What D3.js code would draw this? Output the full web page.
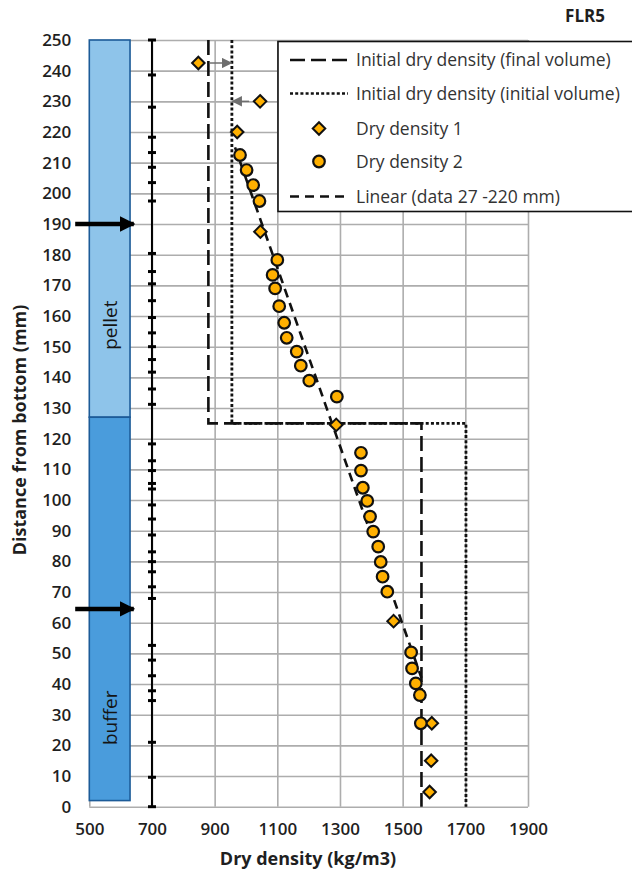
<!DOCTYPE html>
<html>
<head>
<meta charset="utf-8">
<script src="https://cdn.jsdelivr.net/npm/d3@7"></script>
<style>
  body { margin: 0; background: #fff; }
  svg text { font-family: "Open Sans", "Liberation Sans", sans-serif; }
</style>
</head>
<body>
<svg id="chart" width="632" height="882"></svg>
<script>
// ---- data ----
var xTicks = [500, 700, 900, 1100, 1300, 1500, 1700, 1900];
var yTicks = d3.range(0, 251, 10);

// Dry density 1 (diamonds) [density, distance]
var dryDensity1 = [
  [848, 242.5], [1045, 230], [972, 220], [1046, 187.5], [1288, 124.5],
  [1471, 60.5], [1593, 27.2], [1591, 15], [1586, 4.8]
];
// Dry density 2 (circles)
var dryDensity2 = [
  [981, 212.5], [1002, 207.6], [1023, 202.7], [1043, 197.5], [1100, 178.3],
  [1085, 173.4], [1093, 169], [1106, 163.2], [1122, 157.8], [1130, 152.9],
  [1162, 148.4], [1175, 143.8], [1202, 138.9], [1290, 133.7], [1367, 115.4],
  [1367, 109.6], [1373, 104], [1387, 99.7], [1396, 94.6], [1406, 89.7],
  [1422, 84.8], [1430, 79.8], [1436, 75], [1451, 70.1], [1527, 50.3],
  [1530, 45.1], [1542, 40.2], [1555, 36.4], [1558, 27.2]
];
// Initial dry density (final volume) step line
var initFinal = [[880, 250], [880, 125], [1560, 125], [1560, 0]];
// Initial dry density (initial volume) step line
var initInitial = [[955, 250], [955, 125], [1702, 125], [1702, 0]];
// Linear trend (data 27-220 mm)
var linearTrend = [[965, 215], [1560, 42]];
// sample boundaries marked on the 700 line
var sampleCuts = [0, 9.6, 21, 34.6, 37.8, 42.7, 47.8, 52.6, 67.9, 71.7, 76.6, 79.9, 83.1,
  88.6, 93.8, 98.4, 103.6, 105.4, 109.6, 112.8, 118.3, 131.2, 136.2, 141.7, 145.8, 150,
  154.5, 159.5, 165, 170.5, 174.5, 180.4, 197.5, 203.5, 208.5, 213.3, 218.3, 228.1, 238.6, 250];
// gray shift arrows [from density, to density, distance]
var shiftArrows = [[885, 953, 242.5], [1010, 957, 230]];
// specimen zones [name, bottom, top, label position]
var zones = [["pellet", 127, 250, 157], ["buffer", 2, 127, 29]];
var zoneColors = ["#8ec4ea", "#4a9cdc"];
// black section arrows (distance)
var sectionArrows = [190, 64.5];
var legendNames = ["Initial dry density (final volume)", "Initial dry density (initial volume)",
  "Dry density 1", "Dry density 2", "Linear (data 27 -220 mm)"];

// ---- layout ----
var svg = d3.select("#chart");
var x = d3.scaleLinear().domain([500, 1900]).range([89.3, 528]);
var y = d3.scaleLinear().domain([0, 250]).range([806.7, 40]);
var orange = "#ffb000";
var line = d3.line().x(function(d){ return x(d[0]); }).y(function(d){ return y(d[1]); });

function styleTicks(g){
  g.select(".domain").remove();
  g.selectAll("text").attr("font-size", 17).attr("font-weight", 600).attr("fill", "#1f1f1f")
    .attr("font-family", "'Open Sans', sans-serif");
}
function styleGrid(g){
  g.select(".domain").remove();
  g.selectAll("line").attr("stroke", "#adadad").attr("stroke-width", 1.6);
}

// gridlines
svg.append("g")
  .attr("transform", "translate(" + x(500) + ",0)")
  .call(d3.axisLeft(y).tickValues(yTicks).tickSize(-(x(1900) - x(500))).tickFormat(""))
  .call(styleGrid);
svg.append("g")
  .attr("transform", "translate(0," + y(0) + ")")
  .call(d3.axisBottom(x).tickValues(xTicks).tickSize(-(y(0) - y(250))).tickFormat(""))
  .call(styleGrid);

// tick labels
svg.append("g")
  .attr("transform", "translate(" + x(500) + ",0)")
  .call(d3.axisLeft(y).tickValues(yTicks).tickSize(0).tickPadding(18))
  .call(styleTicks);
svg.append("g")
  .attr("transform", "translate(0," + y(0) + ")")
  .call(d3.axisBottom(x).tickValues(xTicks).tickSize(0).tickPadding(16).tickFormat(d3.format("d")))
  .call(styleTicks);

// zone bars
svg.selectAll("rect.zone").data(zones).enter().append("rect")
  .attr("class", "zone")
  .attr("x", x(500)).attr("width", x(630) - x(500))
  .attr("y", function(d){ return y(d[2]); })
  .attr("height", function(d){ return y(d[1]) - y(d[2]); })
  .attr("fill", function(d, i){ return zoneColors[i]; })
  .attr("stroke", "#1c5b98").attr("stroke-width", 1.6);
svg.selectAll("text.zone").data(zones).enter().append("text")
  .attr("class", "zone")
  .attr("transform", function(d){ return "translate(" + (x(565) + 7) + "," + y(d[3]) + ") rotate(-90)"; })
  .attr("text-anchor", "middle")
  .attr("font-size", 19).attr("fill", "#141414")
  .text(function(d){ return d[0]; });

// 700 line with sample cuts
svg.append("line")
  .attr("x1", x(700)).attr("x2", x(700)).attr("y1", y(0)).attr("y2", y(250))
  .attr("stroke", "#000").attr("stroke-width", 2);
svg.selectAll("line.cut").data(sampleCuts).enter().append("line")
  .attr("class", "cut")
  .attr("x1", x(700) - 4).attr("x2", x(700) + 4)
  .attr("y1", function(d){ return y(d); }).attr("y2", function(d){ return y(d); })
  .attr("stroke", "#000").attr("stroke-width", 3);

// arrow heads
var defs = svg.append("defs");
defs.append("marker").attr("id", "blackHead")
  .attr("viewBox", "0 0 10 10").attr("refX", 9).attr("refY", 5)
  .attr("markerWidth", 3.4).attr("markerHeight", 3.4).attr("markerUnits", "strokeWidth")
  .attr("orient", "auto")
  .append("path").attr("d", "M0,0 L10,5 L0,10 z").attr("fill", "#000");
defs.append("marker").attr("id", "grayHead")
  .attr("viewBox", "0 0 10 10").attr("refX", 9).attr("refY", 5)
  .attr("markerWidth", 7).attr("markerHeight", 7).attr("markerUnits", "strokeWidth")
  .attr("orient", "auto")
  .append("path").attr("d", "M0,0 L10,5 L0,10 z").attr("fill", "#6e6e6e");

svg.selectAll("line.section").data(sectionArrows).enter().append("line")
  .attr("class", "section")
  .attr("x1", x(455)).attr("x2", x(642))
  .attr("y1", function(d){ return y(d); }).attr("y2", function(d){ return y(d); })
  .attr("stroke", "#000").attr("stroke-width", 4.5)
  .attr("marker-end", "url(#blackHead)");

// step lines
svg.append("path").datum(initFinal).attr("d", line)
  .attr("fill", "none").attr("stroke", "#111").attr("stroke-width", 2.6)
  .attr("stroke-dasharray", "15,6");
svg.append("path").datum(initInitial).attr("d", line)
  .attr("fill", "none").attr("stroke", "#111").attr("stroke-width", 2.8)
  .attr("stroke-dasharray", "3,2.2");

// trend line
svg.append("path").datum(linearTrend).attr("d", line)
  .attr("fill", "none").attr("stroke", "#111").attr("stroke-width", 2.6)
  .attr("stroke-dasharray", "9,6");

// gray shift arrows
svg.selectAll("line.shift").data(shiftArrows).enter().append("line")
  .attr("class", "shift")
  .attr("x1", function(d){ return x(d[0]); }).attr("x2", function(d){ return x(d[1]); })
  .attr("y1", function(d){ return y(d[2]); }).attr("y2", function(d){ return y(d[2]); })
  .attr("stroke", "#6e6e6e").attr("stroke-width", 1.5)
  .attr("marker-end", "url(#grayHead)");

// points
var diamond = d3.symbol().type(d3.symbolDiamond2).size(100);
svg.selectAll("path.dd1").data(dryDensity1).enter().append("path")
  .attr("class", "dd1")
  .attr("transform", function(d){ return "translate(" + x(d[0]) + "," + y(d[1]) + ")"; })
  .attr("d", diamond)
  .attr("fill", orange).attr("stroke", "#111").attr("stroke-width", 2);
svg.selectAll("circle.dd2").data(dryDensity2).enter().append("circle")
  .attr("class", "dd2")
  .attr("cx", function(d){ return x(d[0]); }).attr("cy", function(d){ return y(d[1]); })
  .attr("r", 5.8)
  .attr("fill", orange).attr("stroke", "#111").attr("stroke-width", 2.2);

// legend
var lg = svg.append("g").attr("transform", "translate(278,41.5)");
lg.append("rect").attr("width", 370).attr("height", 170)
  .attr("fill", "#fff").attr("stroke", "#111").attr("stroke-width", 1.6);
var rowY = [18.5, 52, 87, 120, 155];
var dashes = ["15,6", "3,2.2", null, null, "9,6"];
legendNames.forEach(function(name, i){
  var ry = rowY[i];
  if (i === 2) {
    lg.append("path").attr("transform", "translate(41," + ry + ")").attr("d", diamond)
      .attr("fill", orange).attr("stroke", "#111").attr("stroke-width", 2);
  } else if (i === 3) {
    lg.append("circle").attr("cx", 41).attr("cy", ry).attr("r", 5.8)
      .attr("fill", orange).attr("stroke", "#111").attr("stroke-width", 2.2);
  } else {
    lg.append("line").attr("x1", 12).attr("x2", 70).attr("y1", ry).attr("y2", ry)
      .attr("stroke", "#111").attr("stroke-width", 2.7).attr("stroke-dasharray", dashes[i]);
  }
  lg.append("text").attr("x", 78).attr("y", ry).attr("dy", "0.35em")
    .attr("font-size", 17.5).attr("fill", "#333").text(name);
});

// titles
svg.append("text").attr("x", 585).attr("y", 22).attr("text-anchor", "middle")
  .attr("font-size", 17).attr("font-weight", 700).attr("fill", "#1f1f1f").text("FLR5");
svg.append("text").attr("x", 308).attr("y", 865).attr("text-anchor", "middle")
  .attr("font-size", 18).attr("font-weight", 700).attr("fill", "#1f1f1f").text("Dry density (kg/m3)");
svg.append("text").attr("transform", "translate(26,430) rotate(-90)").attr("text-anchor", "middle")
  .attr("font-size", 18).attr("font-weight", 700).attr("fill", "#1f1f1f").text("Distance from bottom (mm)");
</script>
</body>
</html>
